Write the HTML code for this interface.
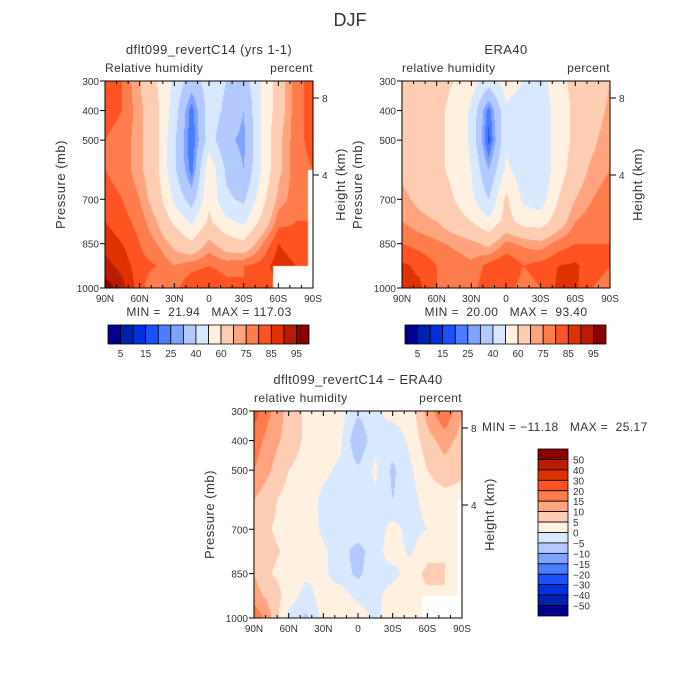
<!DOCTYPE html>
<html><head><meta charset="utf-8">
<style>
html,body{margin:0;padding:0;background:#fff;}
#wrap{position:relative;width:700px;height:700px;overflow:hidden;font-family:"Liberation Sans",sans-serif;}
canvas{position:absolute;}
svg{position:absolute;left:0;top:0;}
text{font-family:"Liberation Sans",sans-serif;fill:#333;white-space:pre;}
</style></head>
<body>
<div id="wrap">
<canvas id="c1" width="208" height="207" style="left:105px;top:81px"></canvas>
<canvas id="c2" width="208" height="207" style="left:402px;top:81px"></canvas>
<canvas id="c3" width="208" height="207" style="left:254px;top:411px"></canvas>
<svg id="ov" width="700" height="700"></svg>
</div>
<script>
// ---- data ----
const lats = [90,75,60,45,30,15,0,-15,-30,-45,-60,-75,-90];
const pres = [300,400,500,600,700,775,850,925,1000];
const rhLevels = [5,10,15,20,25,30,40,50,60,70,75,80,85,90,95];
const rhLabels = ["5","15","25","40","60","75","85","95"];
const diffLevels = [-50,-40,-30,-20,-15,-10,-5,0,5,10,15,20,30,40,50];
const diffLabels = ["50","40","30","20","15","10","5","0","−5","−10","−15","−20","−30","−40","−50"];
const colors = ["#00008c","#0020b0","#0030dc","#1a50ff","#4a7cff","#7fa4ff","#b2caff","#d8e8ff","#fff0e0","#ffcdb2","#ffa47e","#ff7c4c","#ff5422","#e03200","#b81c00","#8a0000"];
const model = [
[82,80,70,60,48,35,45,40,35,50,65,78,82],
[82,80,72,62,45,22,45,38,30,50,65,78,82],
[80,78,72,62,42,20,45,32,28,50,68,78,82],
[80,78,72,62,42,22,58,38,30,50,68,78,80],
[82,80,75,65,48,35,58,42,38,55,72,78,80],
[85,82,78,70,58,48,62,52,48,62,78,80,80],
[88,85,80,75,68,62,72,65,62,74,85,82,80],
[92,88,82,80,75,78,80,78,80,82,88,85,85],
[98,92,82,75,78,85,85,82,80,80,85,85,85]];
const era = [
[65,65,62,60,55,45,55,50,45,58,62,62,70],
[65,65,62,58,48,22,48,45,42,55,62,65,72],
[65,65,62,58,48,18,48,44,42,55,62,68,75],
[68,65,62,58,50,30,52,45,42,55,65,72,75],
[72,68,65,60,52,40,62,48,45,60,70,75,78],
[75,72,70,65,60,52,64,56,55,65,75,78,80],
[80,78,76,74,72,68,76,74,72,77,80,80,80],
[86,84,80,78,76,82,85,80,82,85,86,82,80],
[86,86,80,76,78,84,82,78,80,86,86,80,78]];
const diff = [
[22,15,8,4,3,2,-4,-1,2,2,12,20,10],
[18,12,8,4,3,1,-10,-1,-3,1,8,12,8],
[15,10,5,3,1,-1,-4,1,-6,-1,5,8,6],
[10,6,3,2,-1,-2,-3,-1,-5,-2,2,3,3],
[10,5,3,3,-1,-3,-2,-3,2,-2,0,3,3],
[10,6,4,2,1,-3,-7,-2,3,-1,4,5,3],
[10,5,3,1,1,-3,-6,-2,-2,3,6,5,3],
[12,8,3,-2,2,3,-2,-2,3,4,4,5,3],
[20,10,-2,-6,2,4,4,-2,5,3,2,3,3]];
const yTicks = [300,400,500,700,850,1000];
const xTicks = [90,60,30,0,-30,-60,-90];
const xTickLabels = ["90N","60N","30N","0","30S","60S","90S"];
const hTicks = [8,4];

// ---- helpers ----
function hex(c){return [parseInt(c.slice(1,3),16),parseInt(c.slice(3,5),16),parseInt(c.slice(5,7),16)];}
function levelIndex(v,levels){let i=0;while(i<levels.length&&v>=levels[i])i++;return i;}
function interp(grid,a,b){
  let j=0;while(j<lats.length-2&&a<lats[j+1])j++;
  let i=0;while(i<pres.length-2&&b>pres[i+1])i++;
  const tx=(lats[j]-a)/(lats[j]-lats[j+1]);const ty=(b-pres[i])/(pres[i+1]-pres[i]);
  const v00=grid[i][j],v01=grid[i][j+1],v10=grid[i+1][j],v11=grid[i+1][j+1];
  return (v00*(1-tx)+v01*tx)*(1-ty)+(v10*(1-tx)+v11*tx)*ty;
}
function drawPanel(id,grid,levels,missing){
  const cv=document.getElementById(id),ctx=cv.getContext('2d');
  const W=cv.width,H=cv.height,img=ctx.createImageData(W,H);
  const rgb=colors.map(hex);
  for(let y=0;y<H;y++)for(let x=0;x<W;x++){
    const lat=90-180*(x+0.5)/W, p=300+700*(y+0.5)/H;
    const c=rgb[levelIndex(interp(grid,lat,p),levels)];
    const k=(y*W+x)*4;img.data[k]=c[0];img.data[k+1]=c[1];img.data[k+2]=c[2];img.data[k+3]=255;
  }
  ctx.putImageData(img,0,0);
  if(missing){
    ctx.fillStyle='#fff';
    ctx.fillRect(W-40,H-22,40,22);
    ctx.fillRect(W-5,H-118,5,118);
  }
}
drawPanel('c1',model,rhLevels,true);
drawPanel('c2',era,rhLevels,false);
drawPanel('c3',diff,diffLevels,true);

const NS='http://www.w3.org/2000/svg';
const svg=document.getElementById('ov');
function mk(tag,attrs,parent,txt){const e=document.createElementNS(NS,tag);for(const k in attrs)e.setAttribute(k,attrs[k]);if(txt!==undefined)e.textContent=txt;(parent||svg).appendChild(e);return e;}

function axes(x0,y0,W,H,name,title,subL,subR,minmax){
  const g=mk('g',{});
  
  
  const xs=lat=>x0+(90-lat)/180*W, ys=p=>y0+(p-300)/700*H;
  const fr=mk('rect',{x:x0,y:y0,width:W,height:H,fill:'none',stroke:'#000','stroke-width':1},g);
  
  yTicks.forEach(p=>{
    mk('line',{x1:x0-5,x2:x0,y1:ys(p),y2:ys(p),stroke:'#000'},g);
    const t=mk('text',{x:x0-6,y:ys(p)+4,'font-size':10,'text-anchor':'end'},g,String(p));
    
  });
  for(let l=90;l>=-90;l-=10){const big=l%30===0;
    mk('line',{x1:xs(l),x2:xs(l),y1:y0+H,y2:y0+H-(big?5:3),stroke:'#000'},g);
    mk('line',{x1:xs(l),x2:xs(l),y1:y0,y2:y0+(big?5:3),stroke:'#000'},g);}
  xTicks.forEach((l,i)=>{const t=mk('text',{x:xs(l),y:y0+H+14,'font-size':10,'text-anchor':'middle'},g,xTickLabels[i]);
    });
  const hy=[y0+17,y0+94];
  hTicks.forEach((h,i)=>{mk('line',{x1:x0+W,x2:x0+W+6,y1:hy[i],y2:hy[i],stroke:'#000'},g);
    const t=mk('text',{x:x0+W+9,y:hy[i]+4,'font-size':10},g,String(h));
    });
  let t=mk('text',{x:x0-40,y:y0+H/2,'font-size':13,'text-anchor':'middle',transform:`rotate(-90 ${x0-40} ${y0+H/2})`,'letter-spacing':0.5},g,'Pressure (mb)');
  
  t=mk('text',{x:x0+W+32,y:y0+H/2,'font-size':13,'text-anchor':'middle',transform:`rotate(-90 ${x0+W+32} ${y0+H/2})`,'letter-spacing':0.5},g,'Height (km)');
  
  t=mk('text',{x:x0+W/2,y:y0-27,'font-size':13,'text-anchor':'middle','letter-spacing':0.4},g,title);
  
  t=mk('text',{x:x0,y:y0-9,'font-size':12,'letter-spacing':0.4},g,subL);
  
  t=mk('text',{x:x0+W,y:y0-9,'font-size':12,'text-anchor':'end','letter-spacing':0.4},g,subR);
  
  if(minmax){t=mk('text',{x:x0+W/2,y:y0+H+28,'font-size':12,'text-anchor':'middle','letter-spacing':0.4},g,minmax);
    }
}
axes(105,81,208,207,'model','dflt099_revertC14 (yrs 1-1)','Relative humidity','percent','MIN =  21.94   MAX = 117.03');
axes(402,81,208,207,'era40','ERA40','relative humidity','percent','MIN =  20.00   MAX =  93.40');
axes(254,411,208,207,'difference','dflt099_revertC14 − ERA40','relative humidity','percent',null);
let tt=mk('text',{x:482,y:431,'font-size':12,'letter-spacing':0.4},svg,'MIN = −11.18   MAX =  25.17');

tt=mk('text',{x:350,y:26,'font-size':18,'text-anchor':'middle'},svg,'DJF');


function hbar(x0,y0,W,H,name){
  const g=mk('g',{});
  const bw=W/colors.length;
  colors.forEach((c,i)=>{const r=mk('rect',{x:x0+i*bw,y:y0,width:bw,height:H,fill:c,stroke:'#000','stroke-width':0.8},g);
    });
  rhLabels.forEach((l,i)=>{const t=mk('text',{x:x0+(2*i+1)*bw,y:y0+H+13,'font-size':10,'text-anchor':'middle'},g,l);
    });
}
hbar(108,325,201,19,'model-colorbar');
hbar(405,325,201,19,'era40-colorbar');
(function(){
  const x0=538,y0=449,W=30,H=167;const g=mk('g',{});
  
  const bh=H/colors.length;
  colors.slice().reverse().forEach((c,i)=>{const r=mk('rect',{x:x0,y:y0+i*bh,width:W,height:bh,fill:c,stroke:'#000','stroke-width':0.8},g);
    });
  diffLabels.forEach((l,i)=>{const t=mk('text',{x:x0+W+5,y:y0+(i+1)*bh+4,'font-size':10},g,l);
    });
})();
</script>
</body></html>
